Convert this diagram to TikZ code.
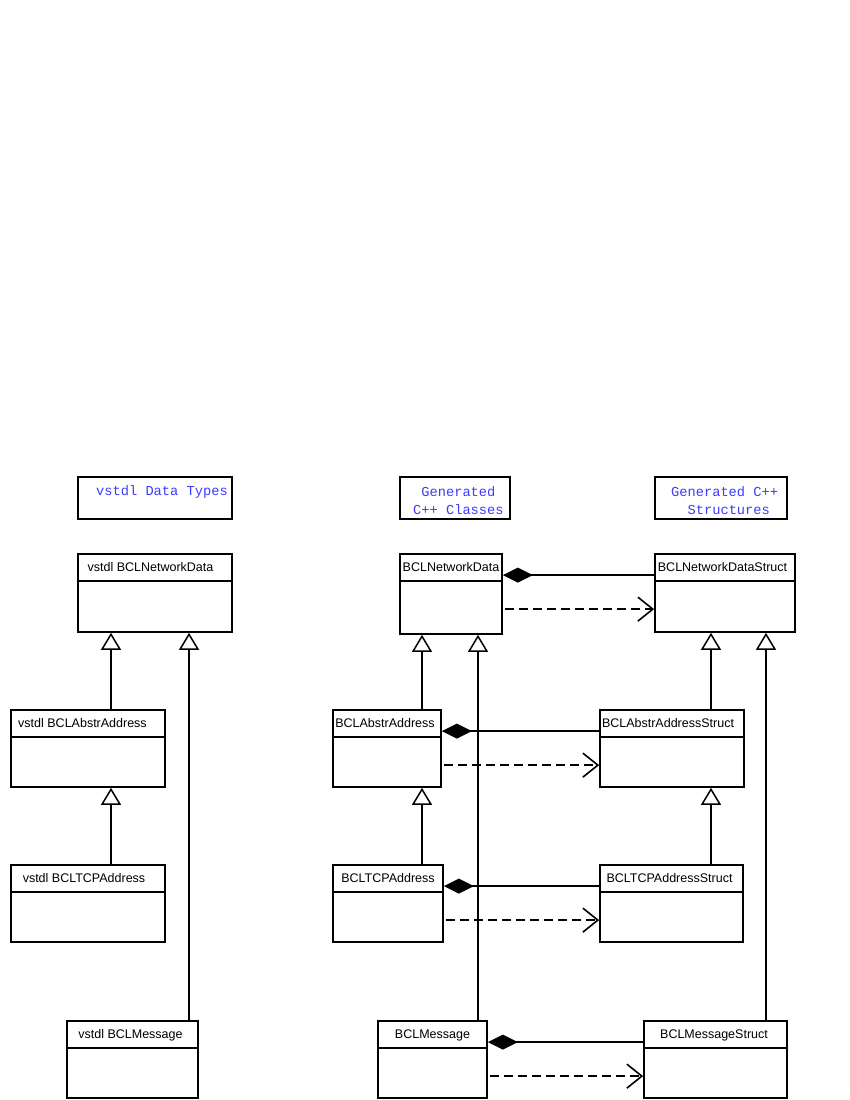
\documentclass[tikz,border=0pt]{standalone}
\usepackage{fontspec}
\setmainfont{Liberation Sans}
\newfontfamily\titlemono{Liberation Mono}
\usetikzlibrary{arrows.meta,calc,fit,shadows}
\definecolor{titleblue}{RGB}{60,60,255}
\tikzset{
  boxline/.style={draw=black, line width=1.7pt},
  clsbox/.style={boxline, fill=white, inner sep=0pt, rectangle,
    drop shadow={shadow xshift=1.2pt, shadow yshift=-1.2pt, fill=black!25, opacity=1}},
  titlebox/.style={clsbox},
  divider/.style={boxline},
  clsname/.style={font=\fontsize{12.5pt}{14pt}\selectfont, inner sep=0pt, anchor=base},
  titletext/.style={font=\titlemono\fontsize{13.7pt}{18pt}\selectfont, text=titleblue,
    inner sep=0pt, align=left},
  inherit/.style={boxline, -{Triangle[open, length=17pt, width=20pt, line width=1.5pt]}},
  compose/.style={boxline, -{Diamond[length=30pt, width=15pt]}},
  depend/.style={boxline, dash pattern=on 9pt off 5pt,
    -{Straight Barb[length=15pt, width=24pt, line width=1.6pt]}},
}
\newcommand\umlclass[7]{%
  \node[clsbox, fit={(#2,#3) (#4,#5)}] (#1) {};
  \draw[divider] ($(#1.north west)+(0,27.5)$) -- ($(#1.north east)+(0,27.5)$);
  \node[clsname] (#1-name) at ($(#1.north)+(#7,18)$) {#6};
}
\begin{document}
\begin{tikzpicture}[x=1pt, y=-1pt]
\useasboundingbox (0,0) rectangle (850,1100);

% titles
\node[titlebox, fit={(78,477) (232,519)}] (tA) {};
\node[titletext, anchor=west] (tA-text) at (96,492) {vstdl Data Types};
\node[titlebox, fit={(400,477) (510,519)}] (tB) {};
\node[titletext, anchor=west] (tB-text) at (413,501) {\hphantom{x}Generated\\C++ Classes};
\node[titlebox, fit={(655,477) (787,519)}] (tC) {};
\node[titletext, anchor=west] (tC-text) at (671,501) {Generated C++\\\hphantom{xx}Structures};

% left column
\umlclass{ndL}{78}{554}{232}{632}{vstdl BCLNetworkData}{-4.5}
\umlclass{absL}{11}{710}{165}{787}{vstdl BCLAbstrAddress}{-5.5}
\umlclass{tcpL}{11}{865}{165}{942}{vstdl BCLTCPAddress}{-4}
\umlclass{msgL}{67}{1021}{198}{1098}{vstdl BCLMessage}{-2}

% middle column
\umlclass{ndM}{400}{554}{502}{634}{BCLNetworkData}{0}
\umlclass{absM}{333}{710}{441}{787}{BCLAbstrAddress}{-2}
\umlclass{tcpM}{333}{865}{443}{942}{BCLTCPAddress}{0}
\umlclass{msgM}{378}{1021}{487}{1098}{BCLMessage}{0}

% right column
\umlclass{ndR}{655}{554}{795}{632}{BCLNetworkDataStruct}{-2.5}
\umlclass{absR}{600}{710}{744}{787}{BCLAbstrAddressStruct}{-4}
\umlclass{tcpR}{600}{865}{743}{942}{BCLTCPAddressStruct}{-2}
\umlclass{msgR}{644}{1021}{787}{1098}{BCLMessageStruct}{-1.5}

% inheritance columns
\coordinate (xL1) at (111,0);
\coordinate (xL2) at (189,0);
\coordinate (xM1) at (422,0);
\coordinate (xM2) at (478,0);
\coordinate (xR1) at (711,0);
\coordinate (xR2) at (766,0);

\draw[inherit] (absL.north -| xL1) -- (ndL.south -| xL1);
\draw[inherit] (tcpL.north -| xL1) -- (absL.south -| xL1);
\draw[inherit] (msgL.north -| xL2) -- (ndL.south -| xL2);

\draw[inherit] (absM.north -| xM1) -- (ndM.south -| xM1);
\draw[inherit] (tcpM.north -| xM1) -- (absM.south -| xM1);
\draw[inherit] (msgM.north -| xM2) -- (ndM.south -| xM2);

\draw[inherit] (absR.north -| xR1) -- (ndR.south -| xR1);
\draw[inherit] (tcpR.north -| xR1) -- (absR.south -| xR1);
\draw[inherit] (msgR.north -| xR2) -- (ndR.south -| xR2);

% composition and dependency
\foreach \c/\s in {ndM/ndR, absM/absR, tcpM/tcpR, msgM/msgR} {
  \draw[compose] ($(\s.north west)+(0,22)$) -- ($(\c.north east)+(0,22)$);
  \draw[depend] ($(\c.north east)+(2,56)$) -- ($(\s.north west)+(0,56)$);
}
\end{tikzpicture}
\end{document}
